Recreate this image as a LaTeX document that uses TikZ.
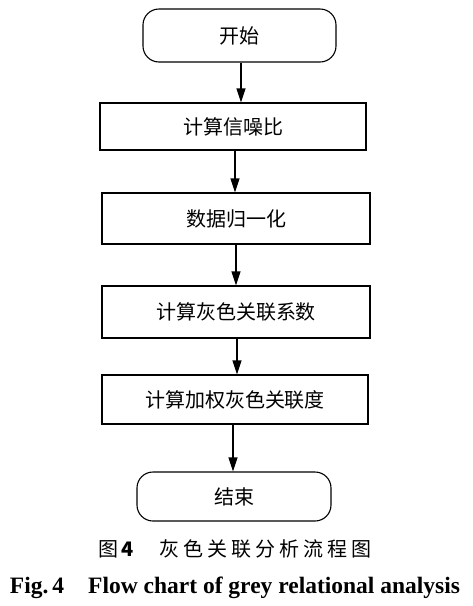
\documentclass[tikz,border=0pt]{standalone}
\usepackage{fontspec}
\setmainfont{Liberation Serif}
\newfontfamily\cjk{Noto Sans CJK SC}
\usetikzlibrary{arrows.meta}
\tikzset{
  procbox/.style={draw, line width=1.1pt, rectangle, inner sep=0pt, font=\cjk\fontsize{20}{24}\selectfont},
  termbox/.style={draw, line width=1.1pt, rectangle, rounded corners=16pt, inner sep=0pt, font=\cjk\fontsize{20}{24}\selectfont},
  arr/.style={line width=1.1pt, -{Triangle[length=14pt,width=9pt]}},
  captext/.style={inner sep=0pt, anchor=center}
}
\begin{document}
\begin{tikzpicture}[x=1pt,y=-1pt]
\useasboundingbox (0,0) rectangle (473,606);
\node[termbox, minimum width=193pt, minimum height=53pt] (s) at (239.5,35.5) {开始};
\node[procbox, minimum width=266pt, minimum height=47pt] (b1) at (233,126.5) {计算信噪比};
\node[procbox, minimum width=268pt, minimum height=51pt] (b2) at (236,218.5) {数据归一化};
\node[procbox, minimum width=268pt, minimum height=52pt] (b3) at (236,312) {计算灰色关联系数};
\node[procbox, minimum width=266pt, minimum height=49pt] (b4) at (235,399.5) {计算加权灰色关联度};
\node[termbox, minimum width=194pt, minimum height=49pt] (e) at (234,496.5) {结束};
\draw[arr] (s.south -| 241,0) -- (b1.north -| 241,0);
\draw[arr] (b1.south -| 235,0) -- (b2.north -| 235,0);
\draw[arr] (b2.south -| 236,0) -- (b3.north -| 236,0);
\draw[arr] (b3.south -| 237,0) -- (b4.north -| 237,0);
\draw[arr] (b4.south -| 233,0) -- (e.north -| 233,0);
\node[captext, font=\cjk\fontsize{20}{24}\selectfont] (c1) at (235,549)
  {图\kern3pt\textbf{4}\kern25pt 灰\kern4pt 色\kern4pt 关\kern4pt 联\kern4pt 分\kern4pt 析\kern4pt 流\kern4pt 程\kern4pt 图};
\node[captext, font=\bfseries\fontsize{23.5}{28}\selectfont] (c2) at (235,588)
  {Fig.\,4\hspace{24pt}Flow chart of grey relational analysis};
\end{tikzpicture}
\end{document}
